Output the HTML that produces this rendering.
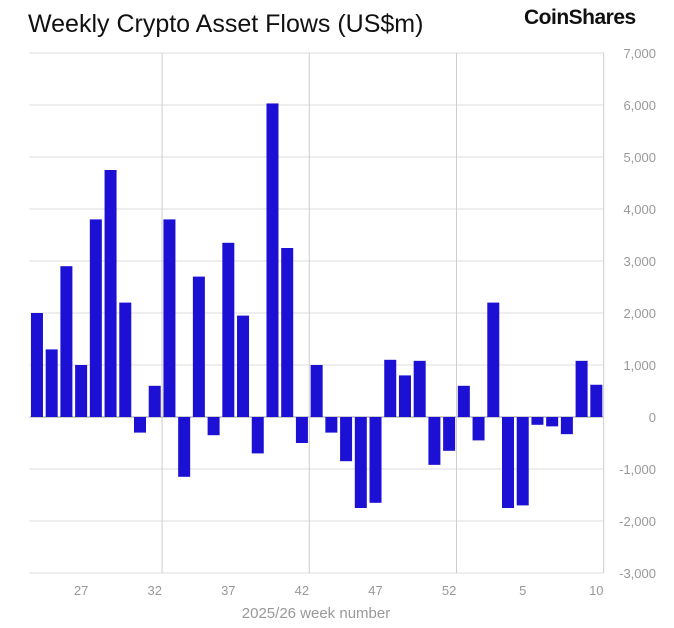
<!DOCTYPE html>
<html><head><meta charset="utf-8"><style>
body{margin:0;background:#fff;width:674px;height:623px;overflow:hidden;font-family:"Liberation Sans",sans-serif}
</style></head><body>
<svg width="674" height="623" id="c">
<text x="28" y="32" font-size="25" fill="#111">Weekly Crypto Asset Flows (US$m)</text>
<text x="524" y="24" font-size="21" font-weight="bold" fill="#111" letter-spacing="-0.5">CoinShares</text>
<text x="316" y="618" font-size="15" fill="#999" text-anchor="middle">2025/26 week number</text>
<g id="grid"></g><g id="bars"></g><g id="labels"></g>
</svg>
<script>
const weeks=[24,25,26,27,28,29,30,31,32,33,34,35,36,37,38,39,40,41,42,43,44,45,46,47,48,49,50,51,52,1,2,3,4,5,6,7,8,9,10];
const flows=[2000,1300,2900,1000,3800,4750,2200,-300,600,3800,-1150,2700,-350,3350,1950,-700,6030,3250,-500,1000,-300,-850,-1750,-1650,1100,800,1080,-920,-650,600,-450,2200,-1750,-1700,-150,-180,-330,1080,620];
const yTicks=[-3000,-2000,-1000,0,1000,2000,3000,4000,5000,6000,7000];
const xTickWeeks=[27,32,37,42,47,52,5,10];
const NS="http://www.w3.org/2000/svg";
const x0=29.6,step=14.72,yTop=53,yBot=573,yMin=-3000,yMax=7000;
const y=v=>yTop+(yMax-v)/(yMax-yMin)*(yBot-yTop);
const xc=i=>x0+step*(i+0.5);
function mk(t,a,p){const e=document.createElementNS(NS,t);for(const k in a)e.setAttribute(k,a[k]);p.appendChild(e);return e;}
const g=document.getElementById('grid'),b=document.getElementById('bars'),l=document.getElementById('labels');
yTicks.forEach(v=>{
 const ln=mk('line',{x1:x0,x2:x0+step*weeks.length,y1:y(v),y2:y(v),stroke:v===0?'#999':'#ddd','stroke-width':1},g);
 
 
 const t=mk('text',{x:656,y:y(v)+5,'font-size':13,fill:'#999','text-anchor':'end'},l);
 t.textContent=v.toLocaleString('en-US');
 
 
});
for(let k=9;k<=weeks.length;k+=10){
 const ln=mk('line',{x1:x0+step*k,x2:x0+step*k,y1:yTop,y2:yBot,stroke:'#ccc','stroke-width':1},g);
 
 
}
flows.forEach((v,i)=>{
 const r=mk('rect',{x:xc(i)-6,width:12,y:Math.min(y(v),y(0)),height:Math.abs(y(v)-y(0)),fill:'#1c10d4'},b);
 
 
});
xTickWeeks.forEach(w=>{
 const i=weeks.indexOf(w);
 const t=mk('text',{x:xc(i),y:595,'font-size':13,fill:'#999','text-anchor':'middle'},l);
 t.textContent=w;
 
 
});
</script>
</body></html>
